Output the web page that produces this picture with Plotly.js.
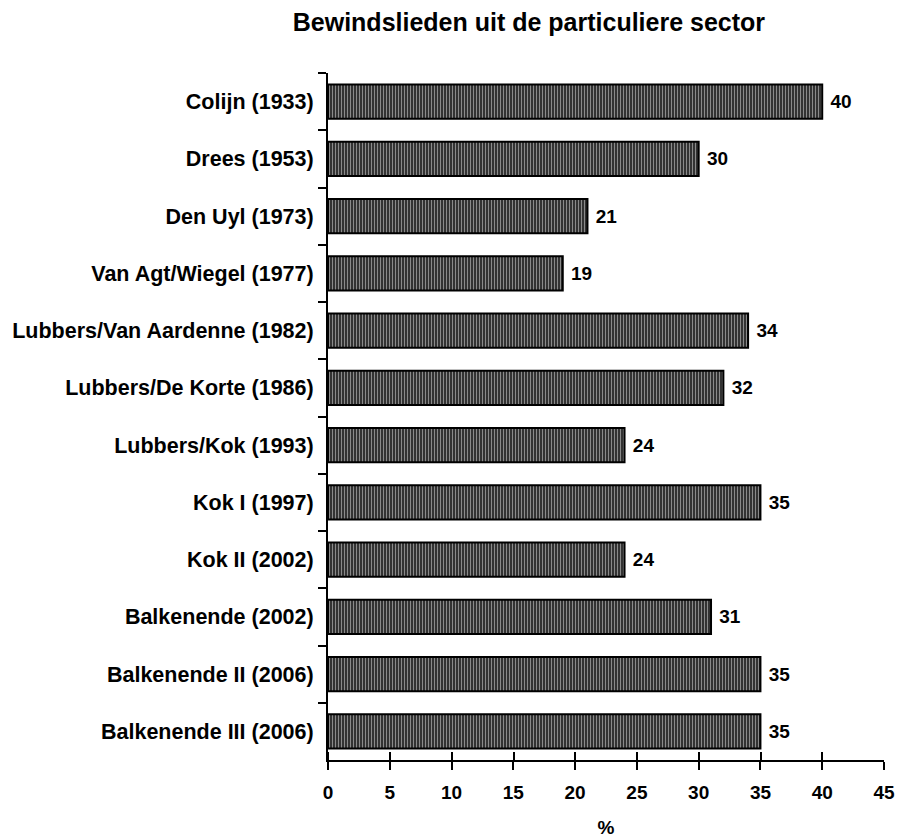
<!DOCTYPE html>
<html>
<head>
<meta charset="utf-8">
<script src="https://cdn.plot.ly/plotly-3.0.1.min.js"></script>
<style>
  body { margin: 0; background: #fff; }
  #chart { width: 898px; height: 838px; }
</style>
</head>
<body>
<div id="chart"></div>
<script>
// kabinetten, van boven naar beneden
const cabinets = [
  "Colijn (1933)",
  "Drees (1953)",
  "Den Uyl (1973)",
  "Van Agt/Wiegel (1977)",
  "Lubbers/Van Aardenne (1982)",
  "Lubbers/De Korte (1986)",
  "Lubbers/Kok (1993)",
  "Kok I (1997)",
  "Kok II (2002)",
  "Balkenende (2002)",
  "Balkenende II (2006)",
  "Balkenende III (2006)"
];
const percentages = [40, 30, 21, 19, 34, 32, 24, 35, 24, 31, 35, 35];
const xTicks = [0, 5, 10, 15, 20, 25, 30, 35, 40, 45];

const FAM = "Arial, Liberation Sans, sans-serif";
const font = (size) => ({ family: FAM, size: size, color: "#000", weight: "bold" });

const trace = {
  type: "bar",
  orientation: "h",
  y: cabinets,
  x: percentages,
  // spatie ervoor voor wat lucht tussen balk en getal
  text: percentages.map(v => "\u00a0" + v),
  textposition: "outside",
  constraintext: "none",
  textfont: font(19),
  cliponaxis: false,
  marker: {
    color: "#3a3a3a",
    line: { color: "#000", width: 2 },
    pattern: { shape: "|", fgcolor: "#8a8a8a", bgcolor: "#333333", size: 3, solidity: 0.35, fillmode: "replace" }
  },
  hoverinfo: "none"
};

const layout = {
  width: 898,
  height: 838,
  margin: { l: 328, r: 14, t: 73, b: 78 },
  paper_bgcolor: "#fff",
  plot_bgcolor: "#fff",
  showlegend: false,
  bargap: 0.4,
  title: {
    text: "Bewindslieden uit de particuliere sector",
    font: font(25),
    x: 0.589, xanchor: "center", y: 0.974, yanchor: "middle"
  },
  xaxis: {
    range: [0, 45],
    tickvals: xTicks,
    ticks: "outside",
    ticklen: 8,
    tickwidth: 2,
    tickcolor: "#000",
    // kleine streepjes naar binnen, zodat de tick de as kruist
    minor: {
      tickvals: xTicks.map(v => v + 0.02),
      ticks: "inside",
      ticklen: 8,
      tickwidth: 2,
      tickcolor: "#000",
      showgrid: false
    },
    ticklabelstandoff: 6,
    showline: true,
    linecolor: "#000",
    linewidth: 2,
    showgrid: false,
    zeroline: false,
    tickfont: font(19),
    title: { text: "%", font: font(19), standoff: 22 }
  },
  yaxis: {
    type: "category",
    categoryorder: "array",
    categoryarray: cabinets,
    autorange: "reversed",
    tickson: "boundaries",
    ticks: "outside",
    ticklen: 8,
    tickwidth: 2,
    tickcolor: "#000",
    ticklabelstandoff: 8,
    showline: true,
    linecolor: "#000",
    linewidth: 2,
    showgrid: false,
    zeroline: false,
    tickfont: font(21.5)
  }
};

Plotly.newPlot("chart", [trace], layout, { staticPlot: true });
</script>
</body>
</html>
